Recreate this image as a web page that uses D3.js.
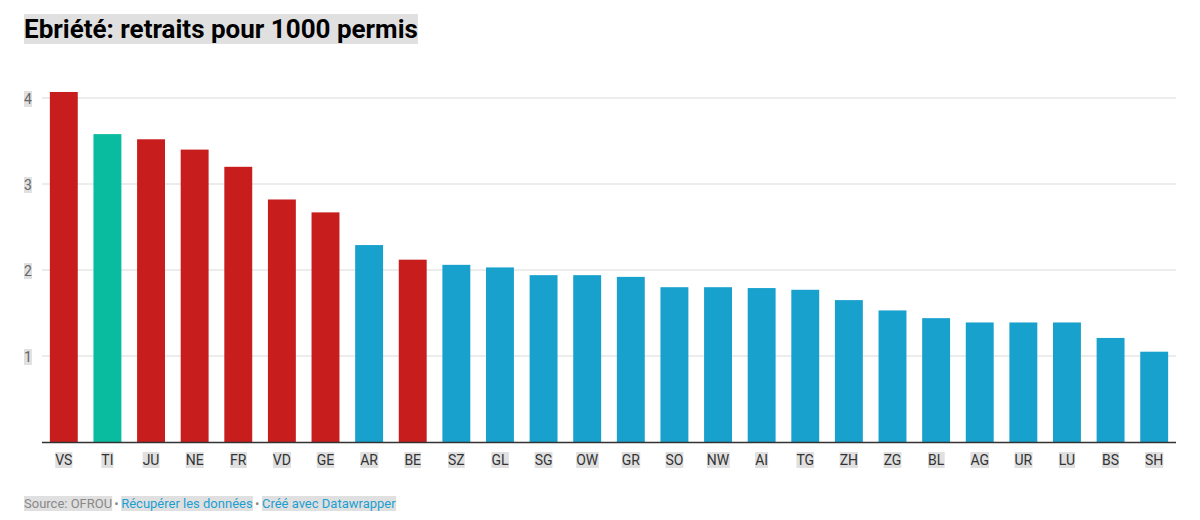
<!DOCTYPE html>
<html><head><meta charset="utf-8">
<script src="https://cdn.jsdelivr.net/npm/d3@7"></script>
<style>body{margin:0;background:#fff;font-family:Roboto,sans-serif}</style>
</head><body>
<svg id="chart" width="1200" height="520"></svg>
<script>
const cantons = ["VS","TI","JU","NE","FR","VD","GE","AR","BE","SZ","GL","SG","OW","GR","SO","NW","AI","TG","ZH","ZG","BL","AG","UR","LU","BS","SH"];
const values = [4.07,3.58,3.52,3.40,3.20,2.82,2.67,2.29,2.12,2.06,2.03,1.94,1.94,1.92,1.80,1.80,1.79,1.77,1.65,1.53,1.44,1.39,1.39,1.39,1.21,1.05];
const groups = ["r","t","r","r","r","r","r","b","r","b","b","b","b","b","b","b","b","b","b","b","b","b","b","b","b","b"];
const yTicks = [1,2,3,4];
const colors = {r:"#c71e1d", t:"#09bb9f", b:"#18a1cd"};

const svg = d3.select("#chart");
const hl = "#e0e0e0";

function label(g, x, y, txt, opts) {
  const t = g.append("text").attr("x", x).attr("y", y).text(txt)
    .attr("font-size", opts.size).attr("fill", opts.fill || "#333")
    .attr("font-weight", opts.weight || "normal")
    .attr("text-anchor", opts.anchor || "start");
  const b = t.node().getBBox();
  g.insert("rect", "text").attr("x", b.x).attr("y", b.y).attr("width", b.width).attr("height", b.height).attr("fill", hl);
  t.raise();
  return b;
}

const tg = svg.append("g");
label(tg, 24, 38, "Ebriété: retraits pour 1000 permis", {size: 26, weight: "bold", fill: "#000"});

const x = d3.scaleBand().domain(cantons).range([42, 1176]).paddingInner(0.36).paddingOuter(0.18);
const y = d3.scaleLinear().domain([0, 4]).range([442, 98]);

const grid = svg.append("g");
yTicks.forEach(t => {
  grid.append("line").attr("x1", 42).attr("x2", 1176).attr("y1", y(t)).attr("y2", y(t))
    .attr("stroke", "#d9d9d9").attr("stroke-width", 1);
  const lg = svg.append("g");
  label(lg, 24, y(t) + 6, String(t), {size: 14, fill: "#666"});
});

svg.append("g").selectAll("rect").data(cantons).join("rect")
  .attr("x", d => x(d)).attr("width", x.bandwidth())
  .attr("y", (d, i) => y(values[i])).attr("height", (d, i) => y(0) - y(values[i]))
  .attr("fill", (d, i) => colors[groups[i]]);

svg.append("line").attr("x1", 42).attr("x2", 1176).attr("y1", 442.5).attr("y2", 442.5)
  .attr("stroke", "#333").attr("stroke-width", 1.5);

const xl = svg.append("g");
cantons.forEach(c => label(xl.append("g"), x(c) + x.bandwidth() / 2, 465, c, {size: 14, anchor: "middle", fill: "#333"}));

const fg = svg.append("g");
let b = label(fg.append("g"), 24, 508, "Source: OFROU", {size: 13, fill: "#888"});
fg.append("text").attr("x", b.x + b.width + 2).attr("y", 508).attr("font-size", 13).attr("fill", "#888").text("•");
b = label(fg.append("g"), b.x + b.width + 9, 508, "Récupérer les données", {size: 13, fill: "#1d9fd0"});
fg.append("text").attr("x", b.x + b.width + 2).attr("y", 508).attr("font-size", 13).attr("fill", "#888").text("•");
label(fg.append("g"), b.x + b.width + 9, 508, "Créé avec Datawrapper", {size: 13, fill: "#1d9fd0"});
</script>
</body></html>
